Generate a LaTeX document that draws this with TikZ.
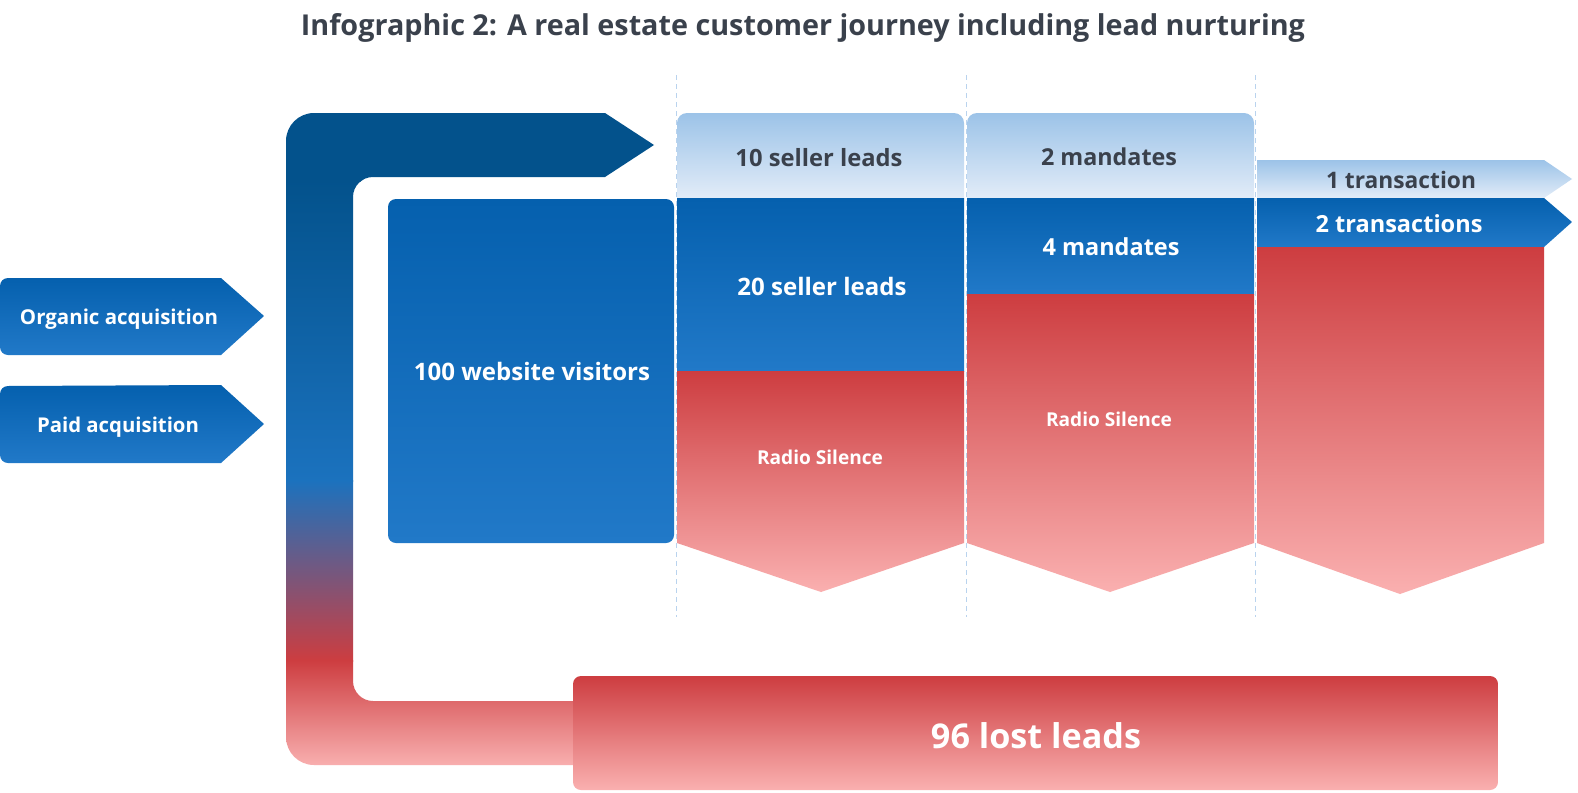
\documentclass[tikz,border=0pt]{standalone}
\usepackage{fontspec}
\setmainfont{Open Sans}
\usepackage{graphicx}
\definecolor{navy}{HTML}{03528C}
\definecolor{blueA}{HTML}{0560AE}
\definecolor{blueB}{HTML}{2179C8}
\definecolor{blueL}{HTML}{1B72BE}
\definecolor{redA}{HTML}{CD3D40}
\definecolor{pinkB}{HTML}{FAB0B0}
\definecolor{tabA}{HTML}{9CC3E8}
\definecolor{tabB}{HTML}{E2ECF8}
\definecolor{ink}{HTML}{3A414C}
\definecolor{dashc}{HTML}{B9D3EE}
\newcommand\fitw[2]{\resizebox{#1pt}{!}{#2}}
\begin{document}
\begin{tikzpicture}[x=1pt,y=-1pt,
  lbl/.style={inner sep=0pt, text=white, font=\bfseries},
  dlbl/.style={inner sep=0pt, text=ink, font=\bfseries},
  guide/.style={dashc, line width=1pt, dash pattern=on 5pt off 4pt},
  bluesh/.style={top color=blueA, bottom color=blueB},
  redsh/.style={top color=redA, bottom color=pinkB},
  tabsh/.style={top color=tabA, bottom color=tabB}]
\useasboundingbox[fill=white] (0,0) rectangle (1578,792);

% title
\node[inner sep=0pt, text=ink, font=\bfseries] (title) at (803,28) {\fitw{1004}{Infographic 2: A real estate customer journey including lead nurturing}};

% dashed guides
\foreach \n/\x in {g1/676, g2/966, g3/1255}{
  \coordinate (\n top) at (\x,75);
  \coordinate (\n bot) at (\x,617);
  \draw[guide] (\n top) -- (\n bot);
}

% acquisition arrows
\shade[bluesh] (221,278) -- (264,316) -- (221,355) -- (8,355)
  arc[start angle=270,end angle=180,radius=8pt] -- (0,286)
  arc[start angle=180,end angle=90,radius=8pt] -- cycle;
\node[lbl] (organic) at (119,319) {\fitw{198}{Organic acquisition}};
\shade[bluesh] (221,385) -- (264,424) -- (221,463) -- (8,463)
  arc[start angle=270,end angle=180,radius=8pt] -- (0,394)
  arc[start angle=180,end angle=90,radius=8pt] -- cycle;
\node[lbl] (paid) at (118,427) {\fitw{162}{Paid acquisition}};

% big L arrow
\begin{scope}
\clip (314,113) -- (605,113) -- (654,145) -- (605,177) -- (373,177)
  arc[start angle=90,end angle=180,radius=20pt] -- (353,681)
  arc[start angle=180,end angle=270,radius=20pt] -- (620,701) -- (620,765) -- (314,765)
  arc[start angle=270,end angle=180,radius=28pt] -- (286,141)
  arc[start angle=180,end angle=90,radius=28pt] -- cycle;
\fill[navy] (280,105) rectangle (660,182);
\shade[top color=navy, bottom color=blueL] (280,180) rectangle (660,481);
\shade[top color=blueL, bottom color=redA] (280,480) rectangle (660,661);
\shade[top color=redA, bottom color=pinkB!95!white] (280,660) rectangle (660,770);
\end{scope}

% website visitors
\shade[bluesh, rounded corners=8pt] (388,199) rectangle (674,543);
\node[lbl] (visitors) at (532,371) {\fitw{236}{100 website visitors}};

% column 1
\shade[tabsh] (677,198) -- (677,123) arc[start angle=180,end angle=90,radius=10pt]
  -- (954,113) arc[start angle=90,end angle=0,radius=10pt] -- (964,198) -- cycle;
\node[dlbl] (c1tab) at (819,158) {\fitw{167}{10 seller leads}};
\shade[bluesh] (677,198) rectangle (964,371);
\node[lbl] (c1blue) at (822,286) {\fitw{169}{20 seller leads}};
\shade[redsh] (677,371) -- (964,371) -- (964,543) -- (821,592) -- (677,543) -- cycle;
\node[lbl] (c1red) at (820,457) {\fitw{126}{Radio Silence}};

% column 2
\shade[tabsh] (967,198) -- (967,123) arc[start angle=180,end angle=90,radius=10pt]
  -- (1244,113) arc[start angle=90,end angle=0,radius=10pt] -- (1254,198) -- cycle;
\node[dlbl] (c2tab) at (1109,157) {\fitw{136}{2 mandates}};
\shade[bluesh] (967,198) rectangle (1254,294);
\node[lbl] (c2blue) at (1111,247) {\fitw{137}{4 mandates}};
\shade[redsh] (967,294) -- (1254,294) -- (1254,543) -- (1110,592) -- (967,543) -- cycle;
\node[lbl] (c2red) at (1109,419) {\fitw{126}{Radio Silence}};

% column 3
\shade[tabsh] (1257,160) -- (1544,160) -- (1572,179) -- (1544,198) -- (1257,198) -- cycle;
\node[dlbl] (c3tab) at (1401,180) {\fitw{150}{1 transaction}};
\shade[bluesh] (1257,198) -- (1544,198) -- (1572,222) -- (1544,247) -- (1257,247) -- cycle;
\node[lbl] (c3blue) at (1399,224) {\fitw{167}{2 transactions}};
\shade[redsh] (1257,247) -- (1544,247) -- (1544,543) -- (1400,594) -- (1257,543) -- cycle;

% lost leads
\shade[redsh, rounded corners=8pt] (573,676) rectangle (1498,790);
\node[lbl] (lost) at (1036,736) {\fitw{210}{96 lost leads}};
\end{tikzpicture}
\end{document}
